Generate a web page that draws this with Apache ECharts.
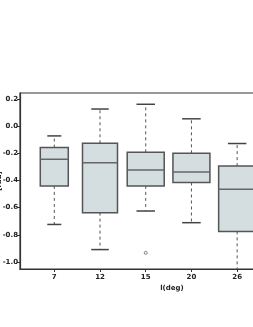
<!DOCTYPE html>
<html><head><meta charset="utf-8">
<script src="https://cdn.jsdelivr.net/npm/echarts@6/dist/echarts.min.js"></script>
<style>html,body{margin:0;padding:0;background:#fff}#c{width:253px;height:327px}</style>
</head><body><div id="c"></div>
<script>
const categories = ['7', '12', '15', '20', '26'];
const whiskerLow = [-0.724, -0.909, -0.625, -0.711, -1.10];
const q1 = [-0.44, -0.637, -0.44, -0.415, -0.775];
const median = [-0.244, -0.269, -0.323, -0.338, -0.464];
const q3 = [-0.158, -0.126, -0.193, -0.200, -0.294];
const whiskerHigh = [-0.072, 0.126, 0.161, 0.054, -0.128];
const outliers = [[2, -0.933]];
const yTickValues = [-1.0, -0.8, -0.6, -0.4, -0.2, 0.0, 0.2];

// style: box widths (px) — variable-width boxes as in reference
const boxPx = [28, 35, 37, 37, 37];

const boxData = categories.map((c, i) => [i, whiskerLow[i], q1[i], median[i], q3[i], whiskerHigh[i]]);

const fontBase = {fontFamily: 'DejaVu Sans', fontSize: 7, fontWeight: 'bold', color: '#222'};
const chart = echarts.init(document.getElementById('c'), null, {renderer: 'canvas'});
chart.setOption({
  animation: false,
  grid: {left: 20, right: -71, top: 93, bottom: 58, containLabel: false, outerBoundsMode: 'none', show: true, borderColor: '#333', borderWidth: 1.2, backgroundColor: 'transparent'},
  xAxis: {
    type: 'value', min: -0.75, max: 5.9,
    name: 'l(deg)', nameLocation: 'middle', nameGap: 16, nameMoveOverlap: false,
    nameTextStyle: Object.assign({}, fontBase),
    axisLine: {show: true, onZero: false, lineStyle: {color: '#333', width: 1.2}},
    axisTick: {show: true, length: 3, customValues: [0, 1, 2, 3, 4], lineStyle: {color: '#333'}},
    axisLabel: Object.assign({margin: 5, customValues: [0, 1, 2, 3, 4], formatter: v => categories[Math.round(v)] || ''}, fontBase),
    splitLine: {show: false}
  },
  yAxis: {
    type: 'value', min: -1.052, max: 0.244,
    name: '[rad]', nameLocation: 'middle', nameGap: 17, nameMoveOverlap: false,
    nameTextStyle: Object.assign({}, fontBase),
    axisLine: {show: true, onZero: false, lineStyle: {color: '#333', width: 1.2}},
    axisTick: {show: true, length: 3, customValues: yTickValues, lineStyle: {color: '#333'}},
    axisLabel: Object.assign({margin: 2, customValues: yTickValues, formatter: v => v.toFixed(1)}, fontBase),
    splitLine: {show: false}
  },
  series: [
    {
      type: 'custom', clip: true,
      data: boxData,
      renderItem: function (params, api) {
        const x = api.value(0);
        const pLo = api.coord([x, api.value(1)]);
        const pQ1 = api.coord([x, api.value(2)]);
        const pMed = api.coord([x, api.value(3)]);
        const pQ3 = api.coord([x, api.value(4)]);
        const pHi = api.coord([x, api.value(5)]);
        const w = boxPx[params.dataIndex];
        const cx = pQ1[0];
        const cap = w / 2;
        const dash = {stroke: '#555', lineWidth: 1, lineDash: [3, 3]};
        const solid = {stroke: '#444', lineWidth: 1.5};
        return {
          type: 'group',
          children: [
            {type: 'line', shape: {x1: cx, y1: pQ3[1], x2: cx, y2: pHi[1]}, style: dash},
            {type: 'line', shape: {x1: cx, y1: pQ1[1], x2: cx, y2: pLo[1]}, style: dash},
            {type: 'line', shape: {x1: cx - cap / 2, y1: pHi[1], x2: cx + cap / 2, y2: pHi[1]}, style: solid},
            {type: 'line', shape: {x1: cx - cap / 2, y1: pLo[1], x2: cx + cap / 2, y2: pLo[1]}, style: solid},
            {type: 'rect', shape: {x: cx - w / 2, y: pQ3[1], width: w, height: pQ1[1] - pQ3[1]}, style: {fill: '#d4dddf', stroke: '#555', lineWidth: 1.5}},
            {type: 'line', shape: {x1: cx - w / 2, y1: pMed[1], x2: cx + w / 2, y2: pMed[1]}, style: {stroke: '#666', lineWidth: 1.5}}
          ]
        };
      }
    },
    {
      type: 'scatter', data: outliers, symbol: 'circle', symbolSize: 3,
      itemStyle: {color: '#fff', borderColor: '#666', borderWidth: 1}
    }
  ]
});
</script></body></html>
